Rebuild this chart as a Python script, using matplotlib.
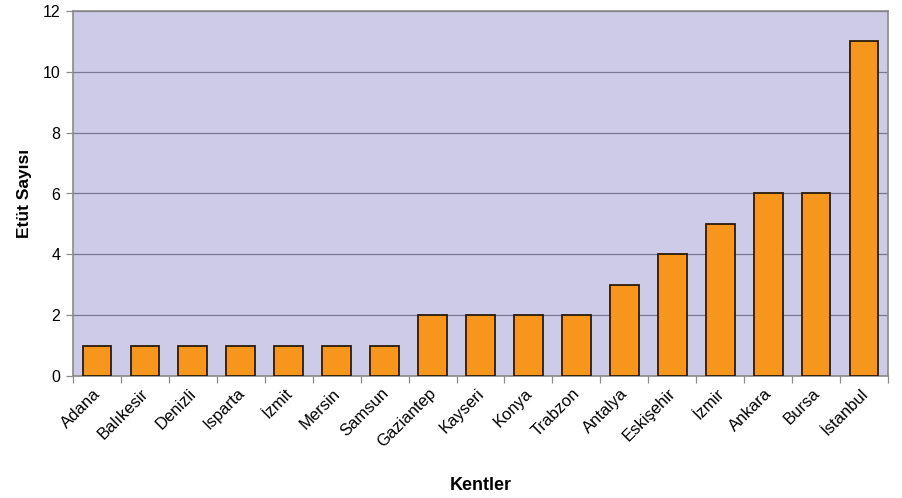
import matplotlib
matplotlib.use("Agg")
import matplotlib.pyplot as plt
import matplotlib.transforms as mtransforms
import numpy as np

cities = ["Adana", "Balıkesir", "Denizli", "Isparta", "İzmit", "Mersin", "Samsun",
          "Gaziantep", "Kayseri", "Konya", "Trabzon", "Antalya", "Eskişehir",
          "İzmir", "Ankara", "Bursa", "İstanbul"]
counts = [1, 1, 1, 1, 1, 1, 1, 2, 2, 2, 2, 3, 4, 5, 6, 6, 11]
yticks = [0, 2, 4, 6, 8, 10, 12]

plt.rcParams['font.family'] = ['Liberation Sans', 'DejaVu Sans']

fig = plt.figure(figsize=(9.03, 4.98), dpi=100)
ax = fig.add_axes([73/903, 1 - 376/498, (888-73)/903, (376-11)/498])

x = np.arange(len(cities))
ax.set_facecolor("#cdcbe8")
ax.bar(x, counts, width=0.6, color="#f7961d", edgecolor="#2a1a0a", linewidth=1.3, zorder=3)

ax.set_xlim(-0.5, len(cities) - 0.5)
ax.set_ylim(0, 12)
ax.set_yticks(yticks)
ax.yaxis.grid(True, color="#7a7890", linewidth=0.9, zorder=1)
ax.set_axisbelow(True)

ax.set_xticks(x)
ax.set_xticklabels(cities, rotation=45, ha="right", rotation_mode="anchor", fontsize=12)
ax.tick_params(axis="x", which="major", length=0, pad=7)
shift = mtransforms.ScaledTranslation(-4/100, 0, fig.dpi_scale_trans)
for lbl in ax.get_xticklabels():
    lbl.set_transform(lbl.get_transform() + shift)
ax.set_xticks(np.arange(-0.5, len(cities) + 0.5, 1), minor=True)
ax.tick_params(axis="x", which="minor", length=5, color="#8a8a8a", width=0.9)
ax.tick_params(axis="y", length=5, color="#8a8a8a", width=0.9, labelsize=11.5, pad=4)

for s in ax.spines.values():
    s.set_color("#8a8a8a")
    s.set_linewidth(1.2)

ax.set_ylabel("Etüt Sayısı", fontsize=12.5, fontweight="bold", labelpad=8)
ax.set_xlabel("Kentler", fontsize=13, fontweight="bold", labelpad=19)

fig.savefig("out.png", dpi=100)
